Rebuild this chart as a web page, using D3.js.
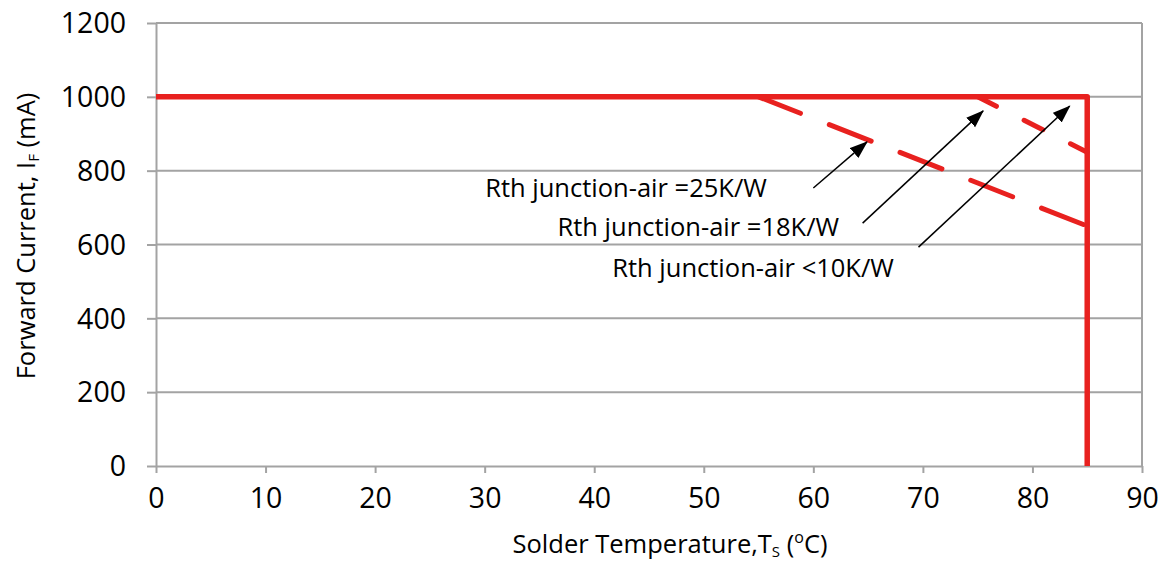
<!DOCTYPE html>
<html>
<head>
<meta charset="utf-8">
<script src="https://cdn.jsdelivr.net/npm/d3@7"></script>
<style>
  html, body { margin: 0; padding: 0; background: #fff; }
  svg { display: block; }
  text { font-family: "Open Sans", "Noto Sans", sans-serif; fill: #000; }
</style>
</head>
<body>
<svg id="chart" width="1161" height="567"></svg>
<script>
// ---- data ----
const xTicks = [0, 10, 20, 30, 40, 50, 60, 70, 80, 90];
const yTicks = [0, 200, 400, 600, 800, 1000, 1200];

// Rth junction-air < 10 K/W (solid)
const lt10X = [0, 85, 85];
const lt10Y = [1000, 1000, 0];
// Rth junction-air = 18 K/W (dashed)
const r18X = [75, 85];
const r18Y = [1000, 850];
// Rth junction-air = 25 K/W (dashed)
const r25X = [55, 85];
const r25Y = [1000, 650];

// annotations: label text, label centre (data units), arrow start and tip (data units)
const labels = ["Rth junction-air =25K/W", "Rth junction-air =18K/W", "Rth junction-air <10K/W"];
const labelX = [42.9, 49.5, 54.5];
const labelY = [729, 623, 512];
const arrowX0 = [60.0, 64.5, 69.6];
const arrowY0 = [753, 658, 593];
const arrowX1 = [64.9, 75.5, 83.4];
const arrowY1 = [878, 962, 975];

const xTitle = "Solder Temperature,T";
const yTitle = "Forward Current, I";

// ---- layout ----
const svg = d3.select("#chart");
const x = d3.scaleLinear().domain([0, 90]).range([156, 1142]);
const y = d3.scaleLinear().domain([0, 1200]).range([466, 23]);
const grey = "#a3a3a3";
const red = "#e8211f";

// gridlines
svg.append("g").selectAll("line").data(yTicks.filter(d => d > 0)).join("line")
  .attr("x1", x(0)).attr("x2", x(90))
  .attr("y1", d => y(d)).attr("y2", d => y(d))
  .attr("stroke", grey).attr("stroke-width", 2);
// right border
svg.append("line").attr("x1", x(90)).attr("x2", x(90)).attr("y1", y(0)).attr("y2", y(1200))
  .attr("stroke", grey).attr("stroke-width", 2);

// x axis
const xAxis = svg.append("g").attr("transform", `translate(0,${y(0)})`)
  .call(d3.axisBottom(x).tickValues(xTicks).tickSize(7).tickSizeOuter(0).tickPadding(15).tickFormat(d3.format("d")));
xAxis.select(".domain").attr("stroke", grey).attr("stroke-width", 2);
xAxis.selectAll(".tick line").attr("stroke", grey).attr("stroke-width", 2);
xAxis.selectAll(".tick text").attr("font-size", 28.5).attr("font-family", "Open Sans").attr("fill", "#000");

// y axis
const yAxis = svg.append("g").attr("transform", `translate(${x(0)},0)`)
  .call(d3.axisLeft(y).tickValues(yTicks).tickSize(9).tickSizeOuter(0).tickPadding(21).tickFormat(d3.format("d")));
yAxis.select(".domain").attr("stroke", grey).attr("stroke-width", 2);
yAxis.selectAll(".tick line").attr("stroke", grey).attr("stroke-width", 2);
yAxis.selectAll(".tick text").attr("font-size", 28.5).attr("font-family", "Open Sans").attr("fill", "#000").attr("dy", "0.34em");

// red curves
const line = d3.line().x(d => x(d[0])).y(d => y(d[1]));
svg.append("path").datum(d3.zip(r25X, r25Y)).attr("d", line)
  .attr("fill", "none").attr("stroke", red).attr("stroke-width", 5)
  .attr("stroke-linecap", "round").attr("stroke-dasharray", "45,31");
svg.append("path").datum(d3.zip(r18X, r18Y)).attr("d", line)
  .attr("fill", "none").attr("stroke", red).attr("stroke-width", 5)
  .attr("stroke-linecap", "round").attr("stroke-dasharray", "21,31");
svg.append("path").datum(d3.zip(lt10X, lt10Y)).attr("d", line)
  .attr("fill", "none").attr("stroke", red).attr("stroke-width", 5.5)
  .attr("stroke-linejoin", "round");

// arrows
svg.append("defs").append("marker")
  .attr("id", "ah").attr("markerUnits", "userSpaceOnUse")
  .attr("viewBox", "0 -7 18 14").attr("refX", 17).attr("refY", 0)
  .attr("markerWidth", 18).attr("markerHeight", 14).attr("orient", "auto")
  .append("path").attr("d", "M0,-6.5L18,0L0,6.5Z").attr("fill", "#000");
svg.append("g").selectAll("line").data(d3.range(labels.length)).join("line")
  .attr("x1", i => x(arrowX0[i])).attr("y1", i => y(arrowY0[i]))
  .attr("x2", i => x(arrowX1[i])).attr("y2", i => y(arrowY1[i]))
  .attr("stroke", "#000").attr("stroke-width", 1.5).attr("marker-end", "url(#ah)");

// labels
svg.append("g").selectAll("text").data(labels).join("text")
  .attr("x", (d, i) => x(labelX[i])).attr("y", (d, i) => y(labelY[i]))
  .attr("text-anchor", "middle").attr("font-size", 25.5).text(d => d);

// axis titles
const xt = svg.append("text").attr("x", 670).attr("y", 553).attr("text-anchor", "middle").attr("font-size", 25.5);
xt.append("tspan").text(xTitle);
xt.append("tspan").attr("font-size", 15).attr("dy", 4).text("S");
xt.append("tspan").attr("dy", -4).text(" (");
xt.append("tspan").attr("font-size", 16).attr("dy", -10).text("o");
xt.append("tspan").attr("dy", 10).text("C)");

const yt = svg.append("text").attr("transform", "translate(35,236) rotate(-90)").attr("text-anchor", "middle").attr("font-size", 25.5);
yt.append("tspan").text(yTitle);
yt.append("tspan").attr("font-size", 15).attr("dy", 4).text("F");
yt.append("tspan").attr("dy", -4).text(" (mA)");
</script>
</body>
</html>
